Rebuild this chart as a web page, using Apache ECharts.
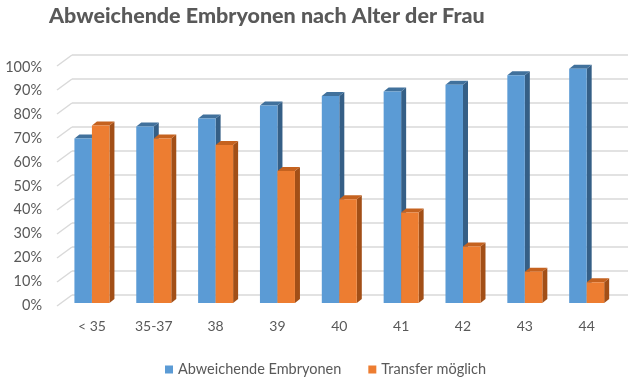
<!DOCTYPE html>
<html><head><meta charset="utf-8">
<script src="https://cdn.jsdelivr.net/npm/echarts@6/dist/echarts.min.js"></script>
<style>html,body{margin:0;padding:0;background:#fff}#c{width:640px;height:385px}</style>
</head><body><div id="c"></div>
<script>
var categories = ['< 35', '35-37', '38', '39', '40', '41', '42', '43', '44'];
var abweichend = [68.3, 73.2, 76.6, 81.9, 85.9, 87.8, 90.6, 94.5, 97.2];
var transfer = [73.6, 68.3, 65.6, 54.8, 43.0, 37.6, 23.4, 13.0, 8.6];
var yTicks = [0, 10, 20, 30, 40, 50, 60, 70, 80, 90, 100];

var BW = 17.5, DX = 5, DY = 4;
function boxRenderer(side, front, top, dark) {
  return function (params, api) {
    var i = api.value(0), v = api.value(1);
    var p = api.coord([i, v]);
    var b = api.coord([i, 0]);
    var x0 = side === 0 ? p[0] - BW : p[0];
    var x1 = x0 + BW;
    var yT = p[1], yB = b[1];
    return {
      type: 'group',
      children: [
        {type: 'polygon', shape: {points: [[x1, yT], [x1 + DX, yT - DY], [x1 + DX, yB - DY], [x1, yB]]}, style: {fill: dark}},
        {type: 'polygon', shape: {points: [[x0, yT], [x0 + DX, yT - DY], [x1 + DX, yT - DY], [x1, yT]]}, style: {fill: top}},
        {type: 'rect', shape: {x: x0, y: yT, width: BW, height: yB - yT}, style: {fill: front}}
      ]
    };
  };
}

var chart = echarts.init(document.getElementById('c'), null, {renderer: 'canvas'});
chart.setOption({
  animation: false,
  title: {text: 'Abweichende Embryonen nach Alter der Frau', left: 44, top: 0,
    textStyle: {fontFamily: 'Lato', fontWeight: 900, fontSize: 21.5, color: '#595959'}},
  legend: {
    data: ['Abweichende Embryonen', 'Transfer möglich'], left: 160, top: 357,
    itemWidth: 8, itemHeight: 8, itemGap: 27, icon: 'rect',
    textStyle: {fontFamily: 'Lato', fontSize: 14.5, color: '#595959'}
  },
  grid: [
    {left: 61, right: 22.4, top: 62, height: 241},
    {left: 46, width: 10, top: 67, height: 238},
    {left: 72, right: 12, top: 55, height: 240}
  ],
  xAxis: [
    {gridIndex: 0, type: 'category', data: categories, boundaryGap: true,
      axisLine: {show: false}, axisTick: {show: false},
      axisLabel: {margin: 16, fontFamily: 'Lato', fontSize: 14, color: '#595959'}},
    {gridIndex: 1, type: 'value', show: false},
    {gridIndex: 2, type: 'value', min: 0, max: 1, show: false}
  ],
  yAxis: [
    {gridIndex: 0, type: 'value', min: 0, max: 100, show: false},
    {gridIndex: 1, type: 'value', min: 0, max: 100, interval: 10,
      axisLine: {show: false}, axisTick: {show: false}, splitLine: {show: false},
      axisLabel: {margin: 4, formatter: '{value}%', fontFamily: 'Lato', fontSize: 14.5, color: '#595959'}},
    {gridIndex: 2, type: 'value', min: 0, max: 100, interval: 10,
      axisLine: {show: false}, axisTick: {show: false}, axisLabel: {show: false},
      splitLine: {show: true, lineStyle: {color: '#d9d9d9', width: 1.5}}}
  ],
  series: [
    {type: 'custom', name: 'grid-diag', xAxisIndex: 2, yAxisIndex: 2, silent: true,
      data: yTicks.map(function (t) { return [0, t]; }),
      renderItem: function (params, api) {
        var p = api.coord([0, api.value(1)]);
        return {type: 'line', shape: {x1: p[0] - 15, y1: p[1] + 11, x2: p[0], y2: p[1]},
          style: {stroke: '#d9d9d9', lineWidth: 1.5}};
      }},
    {type: 'custom', name: 'Abweichende Embryonen', xAxisIndex: 0, yAxisIndex: 0,
      itemStyle: {color: '#5b9bd5'},
      data: abweichend.map(function (v, i) { return [i, v]; }),
      renderItem: boxRenderer(0, '#5b9bd5', '#41719c', '#355f86')},
    {type: 'custom', name: 'Transfer möglich', xAxisIndex: 0, yAxisIndex: 0,
      itemStyle: {color: '#ed7d31'},
      data: transfer.map(function (v, i) { return [i, v]; }),
      renderItem: boxRenderer(1, '#ed7d31', '#c5621f', '#a24f17')}
  ]
});
</script></body></html>
